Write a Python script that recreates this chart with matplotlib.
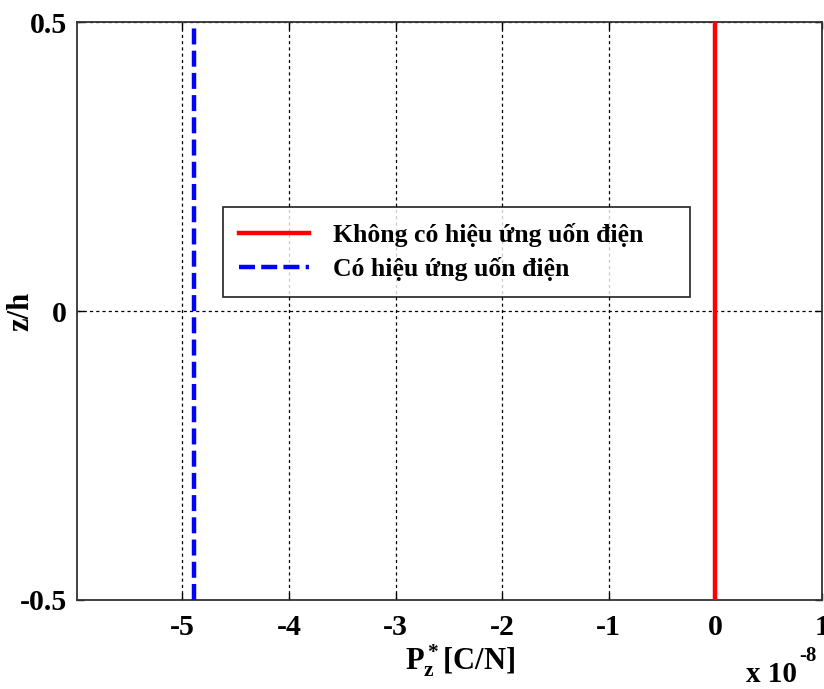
import matplotlib
matplotlib.use('Agg')
import matplotlib.pyplot as plt
import numpy as np

plt.rcParams['font.family'] = 'Liberation Serif'
plt.rcParams['font.weight'] = 'bold'
plt.rcParams['mathtext.fontset'] = 'custom'
plt.rcParams['mathtext.rm'] = 'Liberation Serif:bold'
plt.rcParams['mathtext.it'] = 'Liberation Serif:bold'
plt.rcParams['mathtext.bf'] = 'Liberation Serif:bold'

# data: constant polarisation through the thickness
z = [-0.5, 0.5]
p_no_flexo = [0.0, 0.0]
p_flexo = [-4.89e-8, -4.89e-8]
scale = 1e-8
labels = ['Không có hiệu ứng uốn điện', 'Có hiệu ứng uốn điện']
xticks = [-5, -4, -3, -2, -1, 0, 1]
yticks = [-0.5, 0, 0.5]

fig = plt.figure(figsize=(8.24, 6.89), dpi=100)
ax = fig.add_axes([0.0934, 0.1292, 0.9038, 0.8388])

ax.plot(np.array(p_no_flexo) / scale, z, color='#ff0000', linewidth=3.2,
        label=labels[0], zorder=3)
ax.plot(np.array(p_flexo) / scale, z, color='#0000ff', linewidth=3.2,
        dashes=(3.6, 1.4), label=labels[1], zorder=3)

ax.set_xlim(-5.99, 1)
ax.set_ylim(-0.5, 0.5)
ax.set_xticks(xticks)
ax.set_xticklabels([str(t) for t in xticks])
ax.set_yticks(yticks)
ax.set_yticklabels(['-0.5', '0', '0.5'])
ax.tick_params(direction='in', length=5, width=1, top=True, right=True,
               labelsize=21.5)
ax.tick_params(axis='x', pad=10)
ax.tick_params(axis='y', pad=7)
for s in ax.spines.values():
    s.set_linewidth(1.3)
    s.set_color('#333333')

ax.grid(True, color='black', linestyle=(0, (2.5, 2.5)), linewidth=0.9)

ax.set_xlabel(r'$\mathregular{P_z^*}$[C/N]', fontsize=22, fontweight='bold')
ax.xaxis.set_label_coords(0.5145, -0.073)
ax.set_ylabel('z/h', fontsize=22, fontweight='bold')
ax.yaxis.set_label_coords(-0.056, 0.5)

# axis multiplier, MATLAB style
fig.text(746 / 824, 1 - 682 / 689, 'x 10', fontsize=21, fontweight='bold',
         ha='left', va='baseline')
fig.text(799 / 824, 1 - 661 / 689, '-8', fontsize=15, fontweight='bold',
         ha='left', va='baseline')

leg = ax.legend(loc='upper left', bbox_to_anchor=(0.1964, 0.526, 0.627, 0.154),
                mode='expand', fontsize=18.5, frameon=True, fancybox=False,
                handlelength=2.7, borderpad=0.62, labelspacing=0.4,
                handletextpad=0.95, borderaxespad=0)
leg.get_frame().set_edgecolor('black')
leg.get_frame().set_linewidth(1.3)

fig.savefig('out.png', dpi=100)
